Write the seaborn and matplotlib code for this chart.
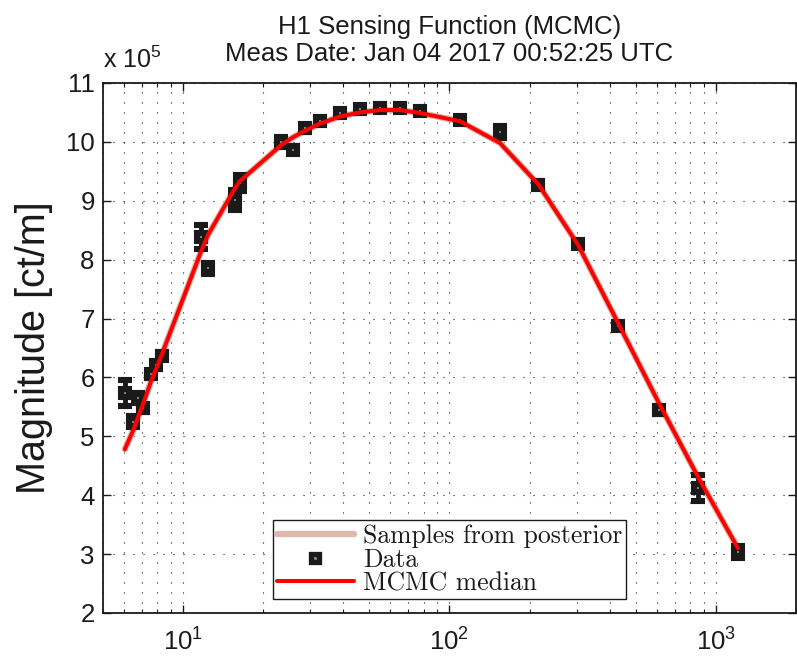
import numpy as np
import pandas as pd
import seaborn as sns
import matplotlib.pyplot as plt
from matplotlib.lines import Line2D
from matplotlib.ticker import LogLocator, NullFormatter

# frequencias [Hz], magnitude em unidades de 1e5 ct/m
freq = [6.04, 6.49, 6.78, 7.08, 7.60, 7.94, 8.30, 11.7, 12.4, 15.6, 16.3,
        23.4, 25.9, 28.7, 32.6, 38.8, 46.1, 54.8, 65.2, 77.5, 109.5, 154.8,
        215.6, 304, 430, 614, 860, 1211]
mag = [5.73, 5.25, 5.65, 5.48, 6.05, 6.21, 6.37, 8.38, 7.85, 9.02, 9.30,
       10.00, 9.87, 10.23, 10.35, 10.49, 10.55, 10.58, 10.58, 10.53, 10.37, 10.17,
       9.27, 8.26, 6.88, 5.44, 4.12, 3.03]
err = [0.22, 0.10, 0.08, 0.06, 0.06, 0.06, 0.06, 0.20, 0.10, 0.17, 0.13,
       0.08, 0.06, 0.06, 0.05, 0.05, 0.05, 0.05, 0.05, 0.05, 0.05, 0.10,
       0.06, 0.05, 0.05, 0.06, 0.22, 0.10]
mcmc_median = [4.78, 5.10, 5.33, 5.56, 5.95, 6.16, 6.38, 8.15, 8.42, 9.20, 9.33,
               9.95, 10.08, 10.19, 10.31, 10.43, 10.50, 10.54, 10.54, 10.49, 10.35, 9.98,
               9.28, 8.25, 6.92, 5.55, 4.30, 3.10]
yticks = [2, 3, 4, 5, 6, 7, 8, 9, 10, 11]

df = pd.DataFrame({'freq': freq, 'mag': mag, 'err': err, 'median': mcmc_median})

sns.set_theme(style='white')
plt.rcParams['font.family'] = ['Liberation Sans', 'DejaVu Sans']
plt.rcParams['mathtext.fontset'] = 'custom'
plt.rcParams['mathtext.rm'] = 'Liberation Sans'
plt.rcParams['mathtext.it'] = 'Liberation Sans:italic'
plt.rcParams['mathtext.bf'] = 'Liberation Sans:bold'
plt.rcParams['text.color'] = 'k'
plt.rcParams['axes.labelcolor'] = 'k'
plt.rcParams['xtick.color'] = 'k'
plt.rcParams['ytick.color'] = 'k'

fig = plt.figure(figsize=(7.97, 6.57), dpi=100)
ax = fig.add_axes([0.1292, 0.067, 0.8695, 0.8067])

pale = '#dcb8ad'
# amostras da posterior (linha clara) e mediana
sns.lineplot(data=df, x='freq', y='median', ax=ax, color=pale, lw=4.6, legend=False)
ax.errorbar(df['freq'], df['mag'], yerr=df['err'], fmt='s', ms=6.2, mfc='0.55',
            mec='k', mew=4.4, ecolor='k', elinewidth=3.5, capsize=5.2, capthick=3,
            zorder=3)
sns.lineplot(data=df, x='freq', y='median', ax=ax, color='red', lw=2.9,
             legend=False, zorder=4)

ax.set_xscale('log')
ax.set_xlim(5, 2000)
ax.set_ylim(2, 11)
ax.set_yticks(yticks)
ax.set_yticklabels([str(t) for t in yticks])
ax.xaxis.set_minor_locator(LogLocator(base=10, subs=np.arange(2, 10), numticks=20))
ax.xaxis.set_minor_formatter(NullFormatter())

dots = (0, (1, 8))
ax.grid(True, which='major', axis='both', ls=dots, color='0.1', lw=0.8)
ax.grid(True, which='minor', axis='x', ls=dots, color='0.1', lw=0.8)

ax.tick_params(which='both', direction='in', top=True, right=True, bottom=True, left=True,
               labelsize=18.5)
ax.tick_params(which='major', length=6, width=1)
ax.tick_params(which='minor', length=3, width=0.8)
ax.tick_params(axis='y', pad=6)
ax.tick_params(axis='x', pad=11)
for s in ax.spines.values():
    s.set_color('k')
    s.set_linewidth(1.3)

ax.set_xlabel('')
ax.set_ylabel('Magnitude [ct/m]', fontsize=28.5, labelpad=9)
ax.set_title('H1 Sensing Function (MCMC)\nMeas Date: Jan 04 2017 00:52:25 UTC',
             fontsize=18.5, pad=16, linespacing=1.15)
ax.text(0.0, 1.018, 'x 10$^5$', transform=ax.transAxes, fontsize=18,
        ha='left', va='bottom')

handles = [Line2D([], [], color=pale, lw=4.6),
           Line2D([], [], marker='s', ls='none', ms=5.5, mfc='0.55', mec='k', mew=3.8),
           Line2D([], [], color='red', lw=2.9)]
labels = ['Samples from posterior', 'Data', 'MCMC median']
leg = ax.legend(handles, labels, loc='lower center', bbox_to_anchor=(0.5, 0.026),
                fancybox=False, framealpha=1, edgecolor='k', handlelength=3.0,
                handletextpad=0.35, borderpad=0.15, labelspacing=0.0, borderaxespad=0,
                prop={'family': 'cmr10', 'size': 18.5})
leg.get_frame().set_linewidth(1.0)

plt.savefig('out.png', dpi=100)
